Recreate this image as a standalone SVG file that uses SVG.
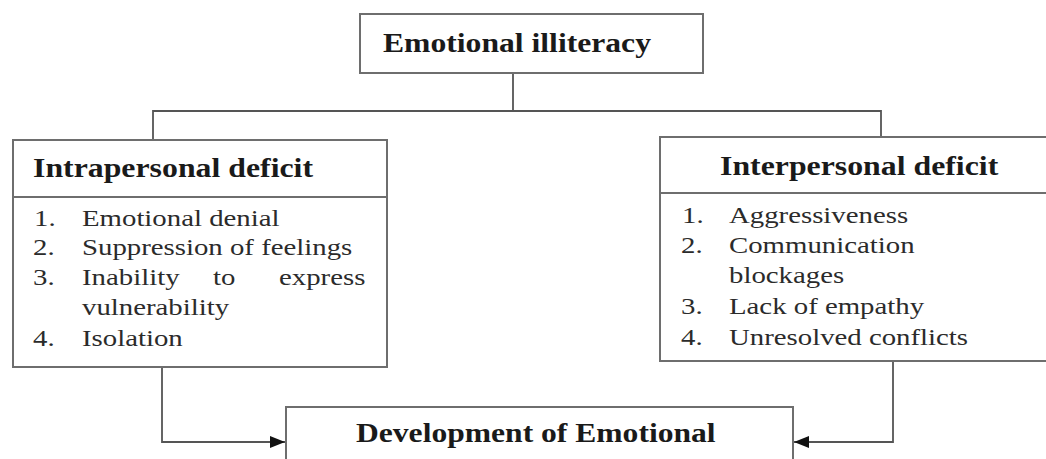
<svg xmlns="http://www.w3.org/2000/svg" width="1046" height="459" viewBox="0 0 1046 459">
<style>
.box{fill:#fff;stroke:#6e6e6e;stroke-width:2}
.div{stroke:#6e6e6e;stroke-width:2}
.conn{fill:none;stroke:#555;stroke-width:1.8}
.t{font-family:"Liberation Serif","Times New Roman",serif;font-weight:bold;font-size:27px;fill:#1a1a1a}
.r{font-family:"Liberation Serif","Times New Roman",serif;font-size:24px;fill:#2b2b2b}
</style>
<defs>
<marker id="ah" markerWidth="15" markerHeight="12" refX="15" refY="6" orient="auto" markerUnits="userSpaceOnUse">
<path d="M0,0 L15,6 L0,12 Z" fill="#111"/>
</marker>
</defs>
<rect width="1046" height="459" fill="#fff"/>
<g id="connectors">
<path class="conn" d="M513,73 V111"/>
<path class="conn" d="M153,140 V111 H881 V137"/>
<path class="conn" d="M162,367 V442 H285" marker-end="url(#ah)"/>
<path class="conn" d="M893,361 V442 H794" marker-end="url(#ah)"/>
</g>
<g id="emotional-illiteracy">
<rect class="box" x="360" y="14" width="343" height="59"/>
<text class="t" transform="translate(383,52) scale(1.172,1)">Emotional illiteracy</text>
</g>
<g id="intrapersonal-deficit">
<rect class="box" x="13" y="140" width="374" height="227"/>
<line class="div" x1="13" y1="197" x2="387" y2="197"/>
<text class="t" transform="translate(33,177) scale(1.178,1)">Intrapersonal deficit</text>
<text class="r" transform="translate(34,226) scale(1.2,1)">1.</text>
<text class="r" transform="translate(82,226) scale(1.2,1)">Emotional denial</text>
<text class="r" transform="translate(33,255) scale(1.2,1)">2.</text>
<text class="r" transform="translate(82,255) scale(1.2,1)">Suppression of feelings</text>
<text class="r" transform="translate(33,285) scale(1.2,1)">3.</text>
<text class="r" transform="translate(82,285) scale(1.2,1)">Inability</text>
<text class="r" transform="translate(213,285) scale(1.2,1)">to</text>
<text class="r" transform="translate(279,285) scale(1.2,1)">express</text>
<text class="r" transform="translate(82,315) scale(1.2,1)">vulnerability</text>
<text class="r" transform="translate(33,346) scale(1.2,1)">4.</text>
<text class="r" transform="translate(82,346) scale(1.2,1)">Isolation</text>
</g>
<g id="interpersonal-deficit">
<rect class="box" x="660" y="137" width="400" height="224"/>
<line class="div" x1="660" y1="193" x2="1046" y2="193"/>
<text class="t" transform="translate(720,175) scale(1.178,1)">Interpersonal deficit</text>
<text class="r" transform="translate(682,223) scale(1.2,1)">1.</text>
<text class="r" transform="translate(729,223) scale(1.2,1)">Aggressiveness</text>
<text class="r" transform="translate(681,253) scale(1.2,1)">2.</text>
<text class="r" transform="translate(729,253) scale(1.2,1)">Communication</text>
<text class="r" transform="translate(729,283) scale(1.2,1)">blockages</text>
<text class="r" transform="translate(681,314) scale(1.2,1)">3.</text>
<text class="r" transform="translate(729,314) scale(1.2,1)">Lack of empathy</text>
<text class="r" transform="translate(681,345) scale(1.2,1)">4.</text>
<text class="r" transform="translate(729,345) scale(1.2,1)">Unresolved conflicts</text>
</g>
<g id="development">
<rect class="box" x="286" y="407" width="507" height="70"/>
<text class="t" transform="translate(356,442) scale(1.17,1)">Development of Emotional</text>
</g>
</svg>
